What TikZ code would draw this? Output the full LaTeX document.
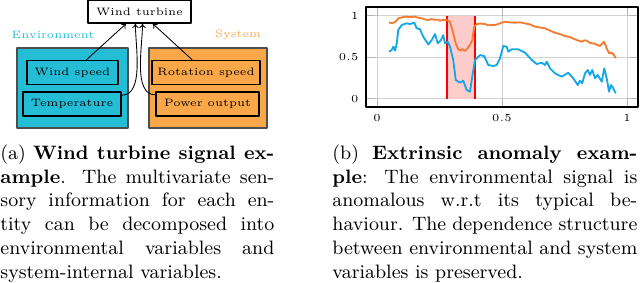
\documentclass[tikz,border=0pt]{standalone}
\usepackage{tikz}
\usepackage{pgfplots}
\pgfplotsset{compat=1.18}
\usetikzlibrary{arrows.meta,positioning}
\definecolor{envCyan}{HTML}{23BDD6}
\definecolor{sysOrange}{HTML}{F9A748}
\definecolor{boxGray}{HTML}{4D4D4D}
\definecolor{sigOrange}{HTML}{F47B30}
\definecolor{sigBlue}{HTML}{12A8E8}
\pgfplotsset{
  signal axis/.style={
    scale only axis,
    axis line style={black, line width=0.6pt},
    tick label style={font=\tiny},
    grid=major,
    major grid style={gray!35, line width=0.4pt},
    tick style={gray!60},
  },
}
\tikzset{
  group/.style={draw=boxGray, line width=0.55pt, minimum height=37.1pt, inner sep=0pt},
  sensor/.style={draw=black, line width=0.6pt, minimum height=11.1pt, inner sep=0pt, font=\tiny},
  link/.style={black, line width=0.4pt, -{To[length=2pt,width=3pt]}},
  caption/.style={anchor=north west, inner sep=0pt, align=justify, font=\small},
}

\begin{document}
\begin{tikzpicture}[x=0.464pt, y=0.464pt, line join=round]
  \useasboundingbox (0,0) rectangle (640,282);

  % --- (a) wind turbine signal ---
  \node[sensor, fill=white, minimum width=47.8pt, minimum height=10.7pt] (turbine) at (139.5,270.5) {Wind turbine};

  \node[font=\tiny, envCyan] (envlab) at (53,247) {Environment};
  \node[group, fill=envCyan, minimum width=51.5pt] (envbox) at (72.5,194) {};
  \node[sensor, fill=envCyan, minimum width=42.2pt] (windspeed) at (72.5,209.5) {Wind speed};
  \node[sensor, fill=envCyan, minimum width=45.5pt] (temperature) at (72,178) {Temperature};

  \node[font=\tiny, sysOrange] (syslab) at (238,247) {System};
  \node[group, fill=sysOrange, minimum width=54.8pt] (sysbox) at (208,194) {};
  \node[sensor, fill=sysOrange, minimum width=50.1pt] (rotation) at (206,209.5) {Rotation speed};
  \node[sensor, fill=sysOrange, minimum width=47.8pt] (power) at (207.5,178) {Power output};

  \draw[link] (windspeed) -- (turbine);
  \draw[link] (rotation) -- (turbine);
  \draw[link] (temperature.10) to[out=0,in=-90,looseness=0.8] ([xshift=-1.9pt]turbine.south);
  \draw[link] (power.170) to[out=180,in=-90,looseness=0.8] ([xshift=1.4pt]turbine.south);

  % --- (b) extrinsic anomaly ---
  \coordinate (plotcorner) at (366,175);
  \begin{axis}[signal axis,
      at={(plotcorner)}, anchor=south west,
      width=126.2pt, height=46.4pt,
      xmin=-0.044, xmax=1.044, ymin=-0.1, ymax=1.105,
      xtick={0,0.5,1}, ytick={0,0.5,1}]
    % anomalous window
    \fill[red!20] (axis cs:0.281,0) rectangle (axis cs:0.392,1);
    \draw[red, line width=0.75pt] (axis cs:0.281,0) -- (axis cs:0.281,1);
    \draw[red, line width=0.75pt] (axis cs:0.392,0) -- (axis cs:0.392,1);

    \addplot[sigOrange, line width=0.85pt, mark=none] coordinates {
      (0.048,0.918) (0.060,0.912) (0.072,0.922) (0.085,0.968) (0.100,0.980)
      (0.112,0.988) (0.130,0.984) (0.152,0.988) (0.165,0.976) (0.179,0.968)
      (0.192,0.955) (0.205,0.948) (0.218,0.960) (0.232,0.950) (0.245,0.952)
      (0.252,0.940) (0.265,0.950) (0.279,0.948) (0.292,0.928) (0.305,0.788)
      (0.315,0.667) (0.325,0.595) (0.335,0.580) (0.342,0.600) (0.350,0.575)
      (0.359,0.595) (0.365,0.620) (0.372,0.647) (0.381,0.707) (0.389,0.867)
      (0.399,0.900) (0.415,0.905) (0.432,0.900) (0.445,0.885) (0.459,0.888)
      (0.475,0.890) (0.492,0.908) (0.512,0.928) (0.530,0.920) (0.552,0.916)
      (0.572,0.920) (0.592,0.908) (0.612,0.895) (0.632,0.868) (0.652,0.858)
      (0.672,0.848) (0.692,0.820) (0.712,0.795) (0.732,0.778) (0.752,0.755)
      (0.772,0.742) (0.792,0.716) (0.805,0.700) (0.819,0.687) (0.829,0.704)
      (0.839,0.699) (0.852,0.672) (0.865,0.667) (0.880,0.650) (0.892,0.635)
      (0.900,0.660) (0.908,0.687) (0.919,0.607) (0.928,0.547) (0.939,0.554)
      (0.947,0.530) (0.955,0.487)};

    \addplot[sigBlue, line width=0.85pt, mark=none] coordinates {
      (0.048,0.567) (0.059,0.587) (0.065,0.627) (0.072,0.579) (0.079,0.667)
      (0.085,0.828) (0.099,0.888) (0.119,0.908) (0.132,0.900) (0.149,0.916)
      (0.159,0.848) (0.172,0.836) (0.185,0.747) (0.205,0.655) (0.219,0.707)
      (0.232,0.779) (0.243,0.667) (0.256,0.707) (0.265,0.767) (0.272,0.667)
      (0.283,0.687) (0.292,0.627) (0.305,0.466) (0.315,0.225) (0.332,0.193)
      (0.345,0.217) (0.359,0.105) (0.372,0.084) (0.381,0.265) (0.392,0.466)
      (0.412,0.526) (0.429,0.514) (0.445,0.406) (0.465,0.394) (0.479,0.406)
      (0.492,0.487) (0.505,0.635) (0.519,0.627) (0.525,0.567) (0.539,0.595)
      (0.565,0.595) (0.592,0.555) (0.619,0.466) (0.639,0.418) (0.659,0.434)
      (0.672,0.406) (0.679,0.446) (0.692,0.366) (0.712,0.306) (0.739,0.265)
      (0.765,0.313) (0.785,0.246) (0.803,0.165) (0.812,0.217) (0.821,0.185)
      (0.832,0.306) (0.843,0.346) (0.852,0.286) (0.861,0.346) (0.872,0.246)
      (0.883,0.286) (0.899,0.205) (0.909,0.366) (0.919,0.246) (0.928,0.084)
      (0.936,0.165) (0.945,0.125) (0.955,0.065)};
  \end{axis}

  % --- captions ---
  \node[caption, text width=127.1pt] (capa) at (0,137.5)
    {(a) \textbf{Wind turbine signal example}. The multivariate sensory information for each entity can be decomposed into environmental variables and system-internal variables.};
  \node[caption, text width=141.5pt] (capb) at (332,137.5)
    {(b) \textbf{Extrinsic anomaly example}: The environmental signal is anomalous w.r.t its typical behaviour. The dependence structure between environmental and system variables is preserved.};
\end{tikzpicture}
\end{document}
